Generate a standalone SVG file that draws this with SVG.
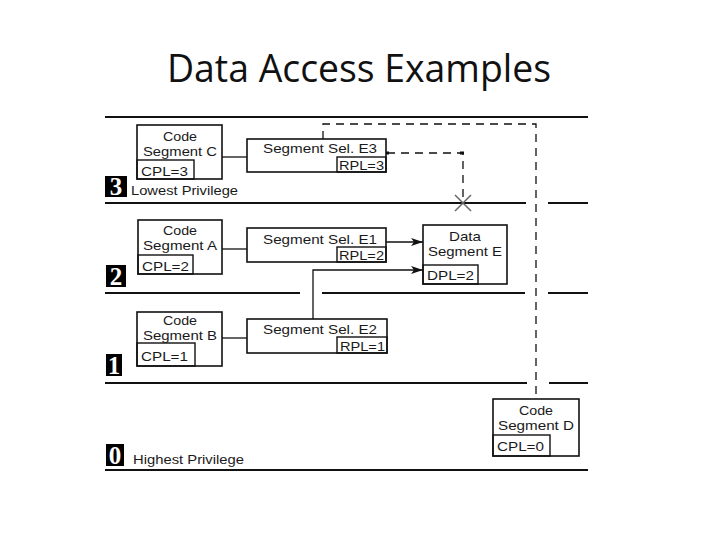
<svg xmlns="http://www.w3.org/2000/svg" width="720" height="540" viewBox="0 0 720 540">
<style>
.t{font-family:"Liberation Sans",Arial,sans-serif;font-size:13px;fill:#1a1a1a}
.m{text-anchor:middle}
.box{fill:#fff;stroke:#111;stroke-width:1.6}
.in{fill:none;stroke:#111;stroke-width:1.4}
.lvl{stroke:#111;stroke-width:2;fill:none}
.con{stroke:#111;stroke-width:1.3;fill:none}
.dash{stroke:#111;stroke-width:1.3;fill:none;stroke-dasharray:8 6}
.badge{fill:#000}
.num{font-family:"Liberation Serif","Times New Roman",serif;font-size:25px;font-weight:bold;fill:#fff;text-anchor:middle}
</style>
<defs>
<marker id="arr" viewBox="0 0 12 8" refX="12" refY="4" markerWidth="12" markerHeight="8" markerUnits="userSpaceOnUse" orient="auto">
<path d="M0,0 L12,4 L0,8 L3,4 Z" fill="#111"/>
</marker>
</defs>
<rect width="720" height="540" fill="#fff"/>
<text x="359" y="82" font-family="'Open Sans','Liberation Sans',sans-serif" font-size="38" text-anchor="middle" textLength="384" lengthAdjust="spacingAndGlyphs" fill="#111">Data Access Examples</text>

<g id="levels">
<path class="lvl" d="M105,117 H588"/>
<path class="lvl" d="M105,203 H526 M548,203 H588"/>
<path class="lvl" d="M105,293 H300 M322,293 H525 M548,293 H588"/>
<path class="lvl" d="M105,383 H527 M549,383 H588"/>
<path class="lvl" d="M105,470 H588"/>
</g>

<g id="badge3"><rect class="badge" x="105" y="176" width="22" height="21"/><text class="num" x="116" y="195">3</text><text class="t" x="131" y="195" textLength="107" lengthAdjust="spacingAndGlyphs">Lowest Privilege</text></g>
<g id="badge2"><rect class="badge" x="106" y="265" width="20" height="22"/><text class="num" x="116" y="285">2</text></g>
<g id="badge1"><rect class="badge" x="106" y="354" width="16" height="22"/><text class="num" x="114" y="374">1</text></g>
<g id="badge0"><rect class="badge" x="106" y="444" width="18" height="22"/><text class="num" x="115" y="464">0</text><text class="t" x="133" y="464" textLength="111" lengthAdjust="spacingAndGlyphs">Highest Privilege</text></g>

<g id="connectors">
<path class="con" d="M222,157 H247"/>
<path class="con" d="M222,249 H247"/>
<path class="con" d="M222,338 H247"/>
<path class="con" d="M386,242 H423" marker-end="url(#arr)"/>
<path class="con" d="M313,319 V270 H423" marker-end="url(#arr)"/>
<path class="dash" d="M323,139 V124 H536 V399"/>
<path class="dash" d="M387,153 H463 V203"/>
<rect x="385" y="151.5" width="4" height="3" fill="#111"/>
<rect x="460" y="151.5" width="4" height="3" fill="#111"/>
<path d="M455,195 L471,211 M471,195 L455,211" stroke="#666" stroke-width="1.5"/>
</g>

<g id="codeC">
<rect class="box" x="137" y="125" width="85" height="54"/>
<rect class="in" x="137" y="160" width="57" height="19"/>
<text class="t m" x="180" y="141" textLength="34" lengthAdjust="spacingAndGlyphs">Code</text>
<text class="t m" x="180" y="156" textLength="74" lengthAdjust="spacingAndGlyphs">Segment C</text>
<text class="t" x="141" y="176" textLength="47" lengthAdjust="spacingAndGlyphs">CPL=3</text>
</g>
<g id="selE3">
<rect class="box" x="247" y="139" width="139" height="33"/>
<rect class="in" x="337" y="157" width="49" height="15"/>
<text class="t m" x="320" y="153" textLength="114" lengthAdjust="spacingAndGlyphs">Segment Sel. E3</text>
<text class="t" x="339" y="170" textLength="45" lengthAdjust="spacingAndGlyphs">RPL=3</text>
</g>

<g id="codeA">
<rect class="box" x="138" y="220" width="84" height="54"/>
<rect class="in" x="138" y="255" width="55" height="19"/>
<text class="t m" x="180" y="235" textLength="34" lengthAdjust="spacingAndGlyphs">Code</text>
<text class="t m" x="180" y="250" textLength="74" lengthAdjust="spacingAndGlyphs">Segment A</text>
<text class="t" x="142" y="271" textLength="47" lengthAdjust="spacingAndGlyphs">CPL=2</text>
</g>
<g id="selE1">
<rect class="box" x="247" y="228" width="139" height="34"/>
<rect class="in" x="337" y="247" width="49" height="15"/>
<text class="t m" x="320" y="244" textLength="114" lengthAdjust="spacingAndGlyphs">Segment Sel. E1</text>
<text class="t" x="339" y="260" textLength="45" lengthAdjust="spacingAndGlyphs">RPL=2</text>
</g>
<g id="dataE">
<rect class="box" x="423" y="225" width="84" height="59"/>
<rect class="in" x="423" y="265" width="55" height="19"/>
<text class="t m" x="465" y="241" textLength="32" lengthAdjust="spacingAndGlyphs">Data</text>
<text class="t m" x="465" y="256" textLength="74" lengthAdjust="spacingAndGlyphs">Segment E</text>
<text class="t" x="427" y="280" textLength="47" lengthAdjust="spacingAndGlyphs">DPL=2</text>
</g>

<g id="codeB">
<rect class="box" x="137" y="312" width="85" height="54"/>
<rect class="in" x="137" y="343" width="58" height="23"/>
<text class="t m" x="180" y="325" textLength="34" lengthAdjust="spacingAndGlyphs">Code</text>
<text class="t m" x="180" y="340" textLength="74" lengthAdjust="spacingAndGlyphs">Segment B</text>
<text class="t" x="141" y="361" textLength="47" lengthAdjust="spacingAndGlyphs">CPL=1</text>
</g>
<g id="selE2">
<rect class="box" x="247" y="319" width="140" height="34"/>
<rect class="in" x="337" y="337" width="50" height="16"/>
<text class="t m" x="320" y="334" textLength="114" lengthAdjust="spacingAndGlyphs">Segment Sel. E2</text>
<text class="t" x="340" y="351" textLength="45" lengthAdjust="spacingAndGlyphs">RPL=1</text>
</g>

<g id="codeD">
<rect class="box" x="493" y="399" width="86" height="57"/>
<rect class="in" x="493" y="435" width="57" height="21"/>
<text class="t m" x="536" y="415" textLength="34" lengthAdjust="spacingAndGlyphs">Code</text>
<text class="t m" x="536" y="430" textLength="76" lengthAdjust="spacingAndGlyphs">Segment D</text>
<text class="t" x="497" y="451" textLength="47" lengthAdjust="spacingAndGlyphs">CPL=0</text>
</g>
</svg>
